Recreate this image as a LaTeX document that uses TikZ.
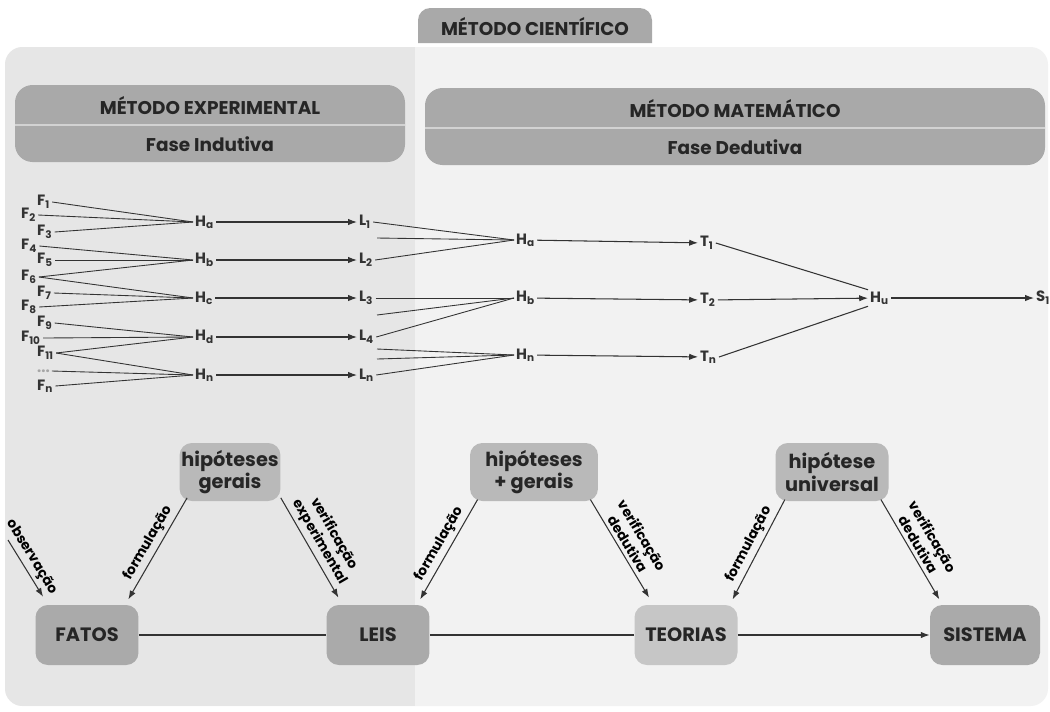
\documentclass[tikz,border=0pt]{standalone}
\usepackage{fontspec}
\setmainfont{Poppins}
\usetikzlibrary{arrows.meta}
\definecolor{panelL}{HTML}{E6E6E6}
\definecolor{panelR}{HTML}{F2F2F2}
\definecolor{headgray}{HTML}{A9A9A9}
\definecolor{sepgray}{HTML}{D2D2D2}
\definecolor{boxdark}{HTML}{AAAAAA}
\definecolor{boxmid}{HTML}{B9B9B9}
\definecolor{boxlight}{HTML}{C6C6C6}
\definecolor{ink}{HTML}{333333}

\begin{document}
\begin{tikzpicture}[x=0.02cm,y=-0.02cm,>={Latex[length=5pt,width=3.6pt]},
    head/.style={font=\fontsize{10.5}{11}\selectfont\bfseries,text=black!85},
    lbl/.style={font=\fontsize{8.5}{8.5}\selectfont\bfseries,text=ink,inner sep=1pt,anchor=west},
    fan/.style={draw=ink,line width=0.5pt},
    edge/.style={draw=ink,line width=0.6pt},
    box/.style={rounded corners=7pt,font=\fontsize{11}{11}\selectfont\bfseries,text=black!85,align=center,
        minimum width=2.06cm,minimum height=1.2cm,inner sep=1pt},
    hip/.style={box,fill=boxmid,minimum height=1.16cm},
    tag/.style={font=\fontsize{7.8}{8}\selectfont\bfseries,sloped,above,align=center,inner sep=2pt}]
     \useasboundingbox (0,0) rectangle (1050,711);
     \fill[white] (0,0) rectangle (1050,711);
     \fill[headgray,rounded corners=7pt] (418,43) -- (418,8) -- (652,8) -- (652,43);
     \node[head] (cient) at (535,27) {MÉTODO CIENTÍFICO};
     \fill[panelR,rounded corners=10pt] (5,47) rectangle (1048,706);
     \begin{scope}
       \clip[rounded corners=10pt] (5,47) rectangle (1048,706);
       \fill[panelL] (5,47) rectangle (415,706);
     \end{scope}
     \fill[headgray,rounded corners=10pt] (15,85) rectangle (405,162);
     \fill[headgray,rounded corners=10pt] (425,88) rectangle (1045,165);
     \draw[sepgray,line width=1.5pt] (15,125) -- (405,125);
     \draw[sepgray,line width=1.5pt] (425,128) -- (1045,128);
     \node[head] (expL) at (210,106) {MÉTODO EXPERIMENTAL};
     \node[head] (indL) at (210,144) {Fase Indutiva};
     \node[head] (matR) at (735,109) {MÉTODO MATEMÁTICO};
     \node[head] (dedR) at (735,147) {Fase Dedutiva};

     \node[lbl] (F1) at (35,202) {F\textsubscript{1}};
     \node[lbl] (F2) at (19,215) {F\textsubscript{2}};
     \node[lbl] (F3) at (35,232) {F\textsubscript{3}};
     \node[lbl] (F4) at (19,246) {F\textsubscript{4}};
     \node[lbl] (F5) at (35,260) {F\textsubscript{5}};
     \node[lbl] (F6) at (19,277) {F\textsubscript{6}};
     \node[lbl] (F7) at (35,293) {F\textsubscript{7}};
     \node[lbl] (F8) at (19,307) {F\textsubscript{8}};
     \node[lbl] (F9) at (35,323) {F\textsubscript{9}};
     \node[lbl] (F10) at (19,338) {F\textsubscript{10}};
     \node[lbl] (F11) at (35,353) {F\textsubscript{11}};
     \node[lbl,text=black!35] (Fdots) at (35,371) {...};
     \node[lbl] (Fn) at (35,386) {F\textsubscript{n}};

     \node[lbl] (Ha) at (193,222) {H\textsubscript{a}};
     \node[lbl] (Hb) at (193,260) {H\textsubscript{b}};
     \node[lbl] (Hc) at (193,298) {H\textsubscript{c}};
     \node[lbl] (Hd) at (193,337) {H\textsubscript{d}};
     \node[lbl] (Hn) at (193,375) {H\textsubscript{n}};
     \draw[fan] (F1.east) -- (Ha.west);
     \draw[fan] (F2.east) -- (Ha.west);
     \draw[fan] (F3.east) -- (Ha.west);
     \draw[fan] (F4.east) -- (Hb.west);
     \draw[fan] (F5.east) -- (Hb.west);
     \draw[fan] (F6.east) -- (Hb.west);
     \draw[fan] (F6.east) -- (Hc.west);
     \draw[fan] (F7.east) -- (Hc.west);
     \draw[fan] (F8.east) -- (Hc.west);
     \draw[fan] (F9.east) -- (Hd.west);
     \draw[fan] (F10.east) -- (Hd.west);
     \draw[fan] (F11.east) -- (Hd.west);
     \draw[fan] (F11.east) -- (Hn.west);
     \draw[fan] (Fdots.east) -- (Hn.west);
     \draw[fan] (Fn.east) -- (Hn.west);

     \node[lbl] (L1) at (357,222) {L\textsubscript{1}};
     \node[lbl] (L2) at (357,260) {L\textsubscript{2}};
     \node[lbl] (L3) at (357,298) {L\textsubscript{3}};
     \node[lbl] (L4) at (357,337) {L\textsubscript{4}};
     \node[lbl] (Ln) at (357,375) {L\textsubscript{n}};
     \draw[edge,->] (Ha) -- (L1);
     \draw[edge,->] (Hb) -- (L2);
     \draw[edge,->] (Hc) -- (L3);
     \draw[edge,->] (Hd) -- (L4);
     \draw[edge,->] (Hn) -- (Ln);

     \node[lbl] (Ha2) at (514,240) {H\textsubscript{a}};
     \node[lbl] (Hb2) at (514,298) {H\textsubscript{b}};
     \node[lbl] (Hn2) at (514,355) {H\textsubscript{n}};
     \coordinate (m1) at (377,238);
     \coordinate (m2) at (377,315);
     \coordinate (m3) at (377,349);
     \coordinate (m4) at (377,359);
     \draw[fan] (L1.east) -- (Ha2.west);
     \draw[fan] (m1) -- (Ha2.west);
     \draw[fan] (L2.east) -- (Ha2.west);
     \draw[fan] (L3.east) -- (Hb2.west);
     \draw[fan] (m2) -- (Hb2.west);
     \draw[fan] (L4.east) -- (Hb2.west);
     \draw[fan] (m3) -- (Hn2.west);
     \draw[fan] (m4) -- (Hn2.west);
     \draw[fan] (Ln.east) -- (Hn2.west);

     \node[lbl] (T1) at (698,243) {T\textsubscript{1}};
     \node[lbl] (T2) at (698,300) {T\textsubscript{2}};
     \node[lbl] (Tn) at (698,357) {T\textsubscript{n}};
     \draw[edge,->] (Ha2) -- (T1);
     \draw[edge,->] (Hb2) -- (T2);
     \draw[edge,->] (Hn2) -- (Tn);
     \node[lbl] (Hu) at (868,298) {H\textsubscript{u}};
     \node[lbl] (S1) at (1034,298) {S\textsubscript{1}};
     \draw[edge] (T1.east) -- (Hu.north west);
     \draw[edge,->] (T2) -- (Hu);
     \draw[edge] (Tn.east) -- (Hu.south west);
     \draw[edge,->] (Hu) -- (S1);

     \node[hip,minimum width=2cm] (hipG) at (230,472) {hipóteses\\gerais};
     \node[box,fill=boxdark] (fatos) at (87,635) {FATOS};
     \node[box,fill=boxdark] (leis) at (378,635) {LEIS};
     \node[hip,minimum width=2.56cm] (hipMG) at (534,472) {hipóteses\\+ gerais};
     \node[box,fill=boxlight] (teorias) at (686,635) {TEORIAS};
     \node[hip,minimum width=2.26cm] (hipU) at (832,472) {hipótese\\universal};
     \node[box,fill=boxdark,minimum width=2.2cm] (sistema) at (985,635) {SISTEMA};
     \draw[edge] (fatos) -- (leis);
     \draw[edge] (leis) -- (teorias);
     \draw[edge,->] (teorias) -- (sistema);
     \coordinate (obs) at (8,540);
     \draw[edge,->] (obs) -- ([shift={(4.5pt,4.5pt)}]fatos.north west) node[tag,pos=0.4] {observação};
     \draw[edge,->] ([xshift=4.5pt,yshift=2pt]hipG.south west) -- ([xshift=-6pt,yshift=3pt]fatos.north east) node[tag,midway] {formulação};
     \draw[edge,->] ([yshift=2pt]hipG.south east) -- ([xshift=7pt,yshift=4pt]leis.north west) node[tag,midway] {verificação\\experimental};
     \draw[edge,->] ([xshift=4.5pt,yshift=1pt]hipMG.south west) -- ([xshift=-5.5pt,yshift=3pt]leis.north east) node[tag,midway] {formulação};
     \draw[edge,->] ([xshift=-4.5pt,yshift=1pt]hipMG.south east) -- ([xshift=8.5pt,yshift=4pt]teorias.north west) node[tag,midway] {verificação\\dedutiva};
     \draw[edge,->] ([xshift=5.5pt,yshift=1pt]hipU.south west) -- ([xshift=-3pt,yshift=3pt]teorias.north east) node[tag,midway] {formulação};
     \draw[edge,->] ([xshift=-4.5pt,yshift=1pt]hipU.south east) -- ([xshift=5.5pt,yshift=3pt]sistema.north west) node[tag,midway] {verificação\\dedutiva};
    \end{tikzpicture}
\end{document}
